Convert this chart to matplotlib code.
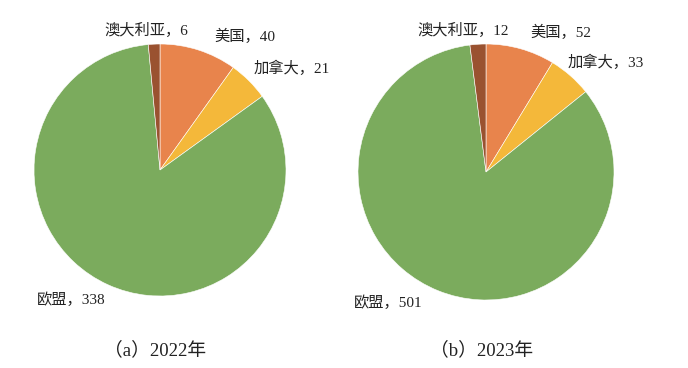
import matplotlib
matplotlib.use("Agg")
import matplotlib.pyplot as plt

plt.rcParams['font.family'] = ['Liberation Serif', 'Noto Sans CJK SC']

regions = ["美国", "加拿大", "欧盟", "澳大利亚"]
values_2022 = [40, 21, 338, 6]
values_2023 = [52, 33, 501, 12]
captions = ["（a）2022年", "（b）2023年"]
colors = ["#E8844C", "#F4B83A", "#7BAB5D", "#9A5230"]

fig = plt.figure(figsize=(6.88, 3.68), dpi=100)
W, H = 688, 368

# pie axes in pixel boxes: (cx, cy, r)
pies = [(160, 170, 126), (486, 172, 128)]
# label anchors (pixel x, y from top) for 美国, 加拿大, 欧盟, 澳大利亚
label_pos = [
    [(214, 36), (254, 68), (37, 300), (104, 30)],
    [(530, 32), (568, 62), (354, 303), (417, 30)],
]
caption_pos = [(155, 350), (482, 350)]

for (cx, cy, r), vals, lpos, cap, cpos in zip(pies, [values_2022, values_2023],
                                              label_pos, captions, caption_pos):
    ax = fig.add_axes([(cx - r) / W, 1 - (cy + r) / H, 2 * r / W, 2 * r / H])
    ax.pie(vals, colors=colors, startangle=90, counterclock=False,
           wedgeprops=dict(edgecolor="white", linewidth=0.4))
    ax.set_aspect("equal")
    ax.set_xlim(-1, 1)
    ax.set_ylim(-1, 1)
    ax.axis("off")
    for name, v, (x, y) in zip(regions, vals, lpos):
        fig.text(x / W, 1 - y / H, f"{name}，{v}", fontsize=11, color="#222222",
                 ha="left", va="center")
    fig.text(cpos[0] / W, 1 - cpos[1] / H, cap, fontsize=13.5, color="#222222",
             ha="center", va="center")

fig.savefig("out.png", dpi=100)
